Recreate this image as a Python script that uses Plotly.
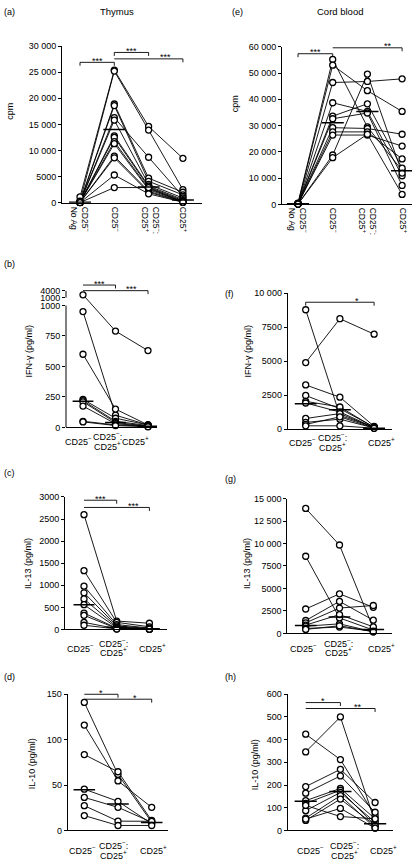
import plotly.graph_objects as go

W, H = 420, 868
FONT = "Liberation Sans, Arial, sans-serif"

# ---------------- data ----------------
# (a) Thymus proliferation, cpm  (No Ag / CD25- / CD25-:CD25+ / CD25+)
a_noag = [1100, 300, 200, 150, 100, 100, 50, 50, 100, 50, 50, 50, 20, 20]
a_neg = [25400, 25200, 18900, 18600, 16300, 15800, 12800, 12500, 11700, 11300, 8900, 8600, 5300, 2900]
a_mix = [14600, 13900, 4700, 4100, 8700, 3500, 3200, 3000, 2700, 2500, 2200, 2000, 1700, 2900]
a_pos = [8500, 2500, 2000, 1500, 1200, 900, 600, 400, 300, 200, 150, 100, 100, 100]
a_med = [100, 14000, 3000, 500]

# (e) Cord blood proliferation, cpm
e_noag = [500, 400, 300, 300, 200, 200, 200, 100, 100, 100, 100]
e_neg = [55200, 53000, 46400, 38700, 33600, 32600, 29200, 27600, 26400, 18800, 17800]
e_mix = [29500, 43300, 46800, 35400, 38300, 34800, 28900, 27600, 26400, 49600, 26700]
e_pos = [12900, 35400, 47800, 10900, 13800, 7200, 26700, 17300, 22200, 11900, 3800]
e_med = [200, 31100, 35400, 12800]

# (b) Thymus IFN-gamma (CD25- / CD25-:CD25+ / CD25+)
b_neg = [2200, 950, 600, 230, 220, 210, 175, 50, 45]
b_mix = [790, 100, 150, 75, 50, 40, 30, 20, 15]
b_pos = [630, 20, 20, 20, 15, 10, 10, 10, 5]
b_med = [215, 40, 10]

# (f) Cord blood IFN-gamma
f_neg = [8790, 4900, 3250, 2475, 2040, 1920, 780, 490, 340, 240]
f_mix = [1000, 8130, 2350, 1500, 1625, 1260, 1140, 730, 900, 240]
f_pos = [150, 6990, 200, 150, 120, 100, 100, 80, 80, 60]
f_med = [1870, 1430, 60]

# (c) Thymus IL-13
c_neg = [2600, 1330, 980, 830, 690, 560, 370, 320, 160, 95]
c_mix = [190, 160, 110, 80, 60, 40, 30, 20, 15, 10]
c_pos = [140, 60, 30, 20, 15, 10, 10, 10, 5, 5]
c_med = [560, 50, 15]

# (g) Cord blood IL-13
g_neg = [13900, 8580, 2710, 1430, 1170, 920, 800, 550, 440]
g_mix = [9830, 1720, 4400, 3560, 2820, 2090, 1060, 700, 850]
g_pos = [550, 370, 2900, 1470, 3100, 730, 180, 250, 180]
g_med = [880, 1830, 440]

# (d) Thymus IL-10
d_neg = [141, 116, 83.5, 45.4, 36.3, 27.2, 16.3]
d_mix = [61.7, 54.5, 64.6, 32, 25.4, 10.2, 5.4]
d_pos = [9, 25.4, 10.9, 7.3, 9, 10, 5.4]
d_med = [44.7, 29, 8.7]

# (h) Cord blood IL-10
h_neg = [424, 346, 193, 164, 131, 119, 87, 54, 44, 50, 110]
h_mix = [312, 500, 269, 240, 185, 177, 167, 153, 138, 97, 61]
h_pos = [65, 36, 123, 80, 51, 22, 36, 10, 22, 10, 51]
h_med = [128, 171, 29]

NEG = "CD25<sup>−</sup>"
POS = "CD25<sup>+</sup>"
cpm_labels = [NEG + "<br>No Ag", NEG, NEG + ":<br>" + POS, POS]
cyt_labels = [[NEG], [NEG + ":", POS], [POS]]

a_ticks = [0, 5000, 10000, 15000, 20000, 25000, 30000]
a_ticktext = ["0", "5000", "10 000", "15 000", "20 000", "25 000", "30 000"]
e_ticks = [0, 10000, 20000, 30000, 40000, 50000, 60000]
e_ticktext = ["0", "10 000", "20 000", "30 000", "40 000", "50 000", "60 000"]
b_ticks = [0, 250, 500, 750, 1000]
b_upper_ticks = [1000, 4000]
f_ticks = [0, 2500, 5000, 7500, 10000]
f_ticktext = ["0", "2500", "5000", "7500", "10 000"]
c_ticks = [0, 500, 1000, 1500, 2000, 2500, 3000]
g_ticks = [0, 2500, 5000, 7500, 10000, 12500, 15000]
g_ticktext = ["0", "2500", "5000", "7500", "10 000", "12 500", "15 000"]
d_ticks = [0, 50, 100, 150]
h_ticks = [0, 100, 200, 300, 400, 500, 600]

# broken axis for panel (b): values above 1000 are compressed into a short upper segment
B_ZERO, B_1000, B_UP1000, B_UP4000 = 427.3, 304.0, 296.0, 289.0   # pixel rows (layout)
b_scale = (B_ZERO - B_1000) / 1000.0
B_T1 = (B_ZERO - B_UP1000) / b_scale
B_T4 = (B_ZERO - B_UP4000) / b_scale


def b_map(v):
    if v <= 1000:
        return v
    return B_T1 + (v - 1000) * (B_T4 - B_T1) / 3000.0


# ---------------- layout config per panel ----------------
panels = [
    dict(key="a", series=[a_noag, a_neg, a_mix, a_pos], med=a_med, xl=62, xr=202, c0=80, step=34.3,
         zero=200, top=41.5, ymax=30000, ticks=a_ticks, ticktext=a_ticktext, labels=cpm_labels,
         lab_px=[80, 115, 151, 183], lab_y=203, angle=90),
    dict(key="e", series=[e_noag, e_neg, e_mix, e_pos], med=e_med, xl=282, xr=412, c0=298, step=34.7,
         zero=201.7, top=42.3, ymax=60000, ticks=e_ticks, ticktext=e_ticktext, labels=cpm_labels,
         lab_px=[298, 333, 368, 403], lab_y=204, angle=90),
    dict(key="b", series=[b_neg, b_mix, b_pos], med=b_med, xl=66, xr=157, c0=83, step=32.5,
         zero=B_ZERO, top=B_UP4000, ymax=B_T4, ticks=b_ticks + [B_T1, B_T4],
         ticktext=[str(t) for t in b_ticks] + [str(t) for t in b_upper_ticks], labels=cyt_labels,
         lab_px=[78, 107, 135], lab_y=441, angle=0),
    dict(key="f", series=[f_neg, f_mix, f_pos], med=f_med, xl=287.7, xr=392, c0=305.7, step=34.2,
         zero=429, top=291.7, ymax=10000, ticks=f_ticks, ticktext=f_ticktext, labels=cyt_labels,
         lab_px=[302, 332, 381], lab_y=442, angle=0),
    dict(key="c", series=[c_neg, c_mix, c_pos], med=c_med, xl=65, xr=167, c0=84, step=32.7,
         zero=631.7, top=497.7, ymax=3000, ticks=c_ticks, ticktext=[str(t) for t in c_ticks],
         labels=cyt_labels, lab_px=[80, 113, 152], lab_y=650, angle=0),
    dict(key="g", series=[g_neg, g_mix, g_pos], med=g_med, xl=287.3, xr=392, c0=305.7, step=33.8,
         zero=635.7, top=499.3, ymax=15000, ticks=g_ticks, ticktext=g_ticktext, labels=cyt_labels,
         lab_px=[303, 338, 381], lab_y=650, angle=0),
    dict(key="d", series=[d_neg, d_mix, d_pos], med=d_med, xl=67.7, xr=168, c0=84.3, step=33.7,
         zero=835, top=697.3, ymax=150, ticks=d_ticks, ticktext=[str(t) for t in d_ticks],
         labels=cyt_labels, lab_px=[82, 113, 153], lab_y=855, angle=0),
    dict(key="h", series=[h_neg, h_mix, h_pos], med=h_med, xl=287.7, xr=393, c0=305.7, step=34.7,
         zero=835, top=697.3, ymax=600, ticks=h_ticks, ticktext=[str(t) for t in h_ticks],
         labels=cyt_labels, lab_px=[310, 344, 383], lab_y=855, angle=0),
]

# significance brackets: (from cat, to cat, pixel row, label, label x in category units, left tick)
brackets = {
    "a": [(0, 1, 58, "***", 0.5, True), (1, 2, 48, "***", 1.5, True), (1, 3, 54.5, "***", 2.5, False)],
    "e": [(0, 1, 49.3, "***", 0.5, True), (1, 3, 43.3, "**", 2.6, False)],
    "b": [(0, 1, 283.3, "***", 0.5, False), (0, 2, 289, "***", 1.5, False)],
    "f": [(0, 2, 300.7, "*", 1.5, True)],
    "c": [(0, 1, 501, "***", 0.5, False), (0, 2, 508.3, "***", 1.5, False)],
    "g": [],
    "d": [(0, 1, 697.3, "*", 0.5, False), (0, 2, 702.3, "*", 1.5, False)],
    "h": [(0, 1, 705.7, "*", 0.5, False), (0, 2, 711.7, "**", 1.5, False)],
}

fig = go.Figure()
layout = dict(width=W, height=H, margin=dict(l=0, r=0, t=0, b=0), showlegend=False,
              paper_bgcolor="white", plot_bgcolor="white",
              font=dict(family=FONT, size=9, color="black"))
shapes, annotations = [], []


def py2p(py):
    return 1 - py / H


for k, p in enumerate(panels, start=1):
    xn = "x" if k == 1 else f"x{k}"
    yn = "y" if k == 1 else f"y{k}"
    is_b = p["key"] == "b"
    ymap = b_map if is_b else (lambda v: v)
    ncat = len(p["series"])
    ndon = len(p["series"][0])

    # connecting lines for each donor
    lx, ly = [], []
    for d in range(ndon):
        for c in range(ncat):
            lx.append(c)
            ly.append(ymap(p["series"][c][d]))
        lx.append(None)
        ly.append(None)
    fig.add_trace(go.Scatter(x=lx, y=ly, mode="lines", xaxis=xn, yaxis=yn,
                             line=dict(color="black", width=0.9), hoverinfo="skip"))
    # open circles
    mx, my = [], []
    for c in range(ncat):
        for d in range(ndon):
            mx.append(c)
            my.append(ymap(p["series"][c][d]))
    fig.add_trace(go.Scatter(x=mx, y=my, mode="markers", xaxis=xn, yaxis=yn, cliponaxis=False,
                             marker=dict(symbol="circle", size=6, color="white",
                                         line=dict(color="black", width=1.3))))
    # median bars
    bx, by = [], []
    for c in range(ncat):
        bx += [c - 0.32, c + 0.32, None]
        v = ymap(p["med"][c])
        by += [v, v, None]
    fig.add_trace(go.Scatter(x=bx, y=by, mode="lines", xaxis=xn, yaxis=yn, cliponaxis=False,
                             line=dict(color="black", width=1.5), hoverinfo="skip"))

    xr0 = (p["xl"] - p["c0"]) / p["step"]
    xr1 = (p["xr"] - p["c0"]) / p["step"]
    layout["xaxis" if k == 1 else f"xaxis{k}"] = dict(
        domain=[p["xl"] / W, p["xr"] / W], range=[xr0, xr1], anchor=yn,
        showline=True, linecolor="black", linewidth=1, ticks="", showgrid=False, zeroline=False,
        showticklabels=False, fixedrange=True)
    layout["yaxis" if k == 1 else f"yaxis{k}"] = dict(
        domain=[py2p(p["zero"]), py2p(p["top"])], range=[0, p["ymax"]], anchor=xn,
        showline=not is_b, linecolor="black", linewidth=1, ticks="outside", ticklen=3,
        tickwidth=1, tickcolor="black", showgrid=False, zeroline=False,
        tickmode="array", tickvals=p["ticks"], ticktext=p["ticktext"],
        tickfont=dict(size=9, family=FONT, color="black"), fixedrange=True)

    # category labels under the x axis
    for lab, lp in zip(p["labels"], p["lab_px"]):
        xv = (lp - p["c0"]) / p["step"]
        if p["angle"] == 90:
            annotations.append(dict(text=lab, xref=xn, yref="paper", x=xv, y=py2p(p["lab_y"]),
                                    xanchor="center", yanchor="top", textangle=90, align="left",
                                    showarrow=False, borderpad=0,
                                    font=dict(size=8.5, family=FONT, color="black")))
        else:
            nl = len(lab)
            for li, line in enumerate(lab):
                yy = p["lab_y"] + (li - (nl - 1) / 2) * 9.5
                annotations.append(dict(text=line, xref=xn, yref="paper", x=xv, y=py2p(yy),
                                        xanchor="center", yanchor="middle", showarrow=False,
                                        borderpad=0, font=dict(size=9, family=FONT, color="black")))

    if is_b:
        # broken y axis drawn as two segments
        for y0, y1 in [(0, 1000), (B_T1, B_T4)]:
            shapes.append(dict(type="line", xref=f"{xn} domain", yref=yn, x0=0, x1=0,
                               y0=y0, y1=y1, line=dict(color="black", width=1)))

    # brackets
    for (i, j, ypx, lab, sx, ltick) in brackets[p["key"]]:
        yb = py2p(ypx)
        ytk = py2p(ypx + 3.5)
        shapes.append(dict(type="line", xref=xn, yref="paper", x0=i, x1=j, y0=yb, y1=yb,
                           line=dict(color="black", width=0.9)))
        shapes.append(dict(type="line", xref=xn, yref="paper", x0=j, x1=j, y0=yb, y1=ytk,
                           line=dict(color="black", width=0.9)))
        if ltick:
            shapes.append(dict(type="line", xref=xn, yref="paper", x0=i, x1=i, y0=yb, y1=ytk,
                               line=dict(color="black", width=0.9)))
        annotations.append(dict(text=lab, xref=xn, yref="paper", x=sx, y=py2p(ypx - 1.5),
                                showarrow=False, xanchor="center", yanchor="middle",
                                font=dict(size=9, family=FONT, color="black")))

# panel letters
for lab, x, y in [("(a)", 2, 7), ("(b)", 2, 262), ("(c)", 2, 473), ("(d)", 2, 680),
                  ("(e)", 230, 7), ("(f)", 223, 292), ("(g)", 223, 480), ("(h)", 223, 680)]:
    annotations.append(dict(text=lab, xref="paper", yref="paper", x=x / W, y=py2p(y),
                            xanchor="left", yanchor="middle", showarrow=False,
                            font=dict(size=9, family=FONT, color="black")))
# column titles
for lab, x in [("Thymus", 117), ("Cord blood", 340)]:
    annotations.append(dict(text=lab, xref="paper", yref="paper", x=x / W, y=py2p(7),
                            xanchor="center", yanchor="middle", showarrow=False,
                            font=dict(size=9.5, family=FONT, color="black")))
# y-axis titles
for lab, x, y in [("cpm", 10, 108), ("cpm", 234.5, 100),
                  ("IFN-γ (pg/ml)", 28.5, 350), ("IFN-γ (pg/ml)", 247.5, 350),
                  ("IL-13 (pg/ml)", 28.5, 565), ("IL-13 (pg/ml)", 247.5, 565),
                  ("IL-10 (pg/ml)", 32, 768), ("IL-10 (pg/ml)", 255, 768)]:
    annotations.append(dict(text=lab, xref="paper", yref="paper", x=x / W, y=py2p(y),
                            xanchor="center", yanchor="middle", textangle=-90, showarrow=False,
                            font=dict(size=9, family=FONT, color="black")))

layout["shapes"] = shapes
layout["annotations"] = annotations
fig.update_layout(**layout)
fig.write_html("out.html", config={"displayModeBar": False},
               post_script="document.body.style.margin='0';")
